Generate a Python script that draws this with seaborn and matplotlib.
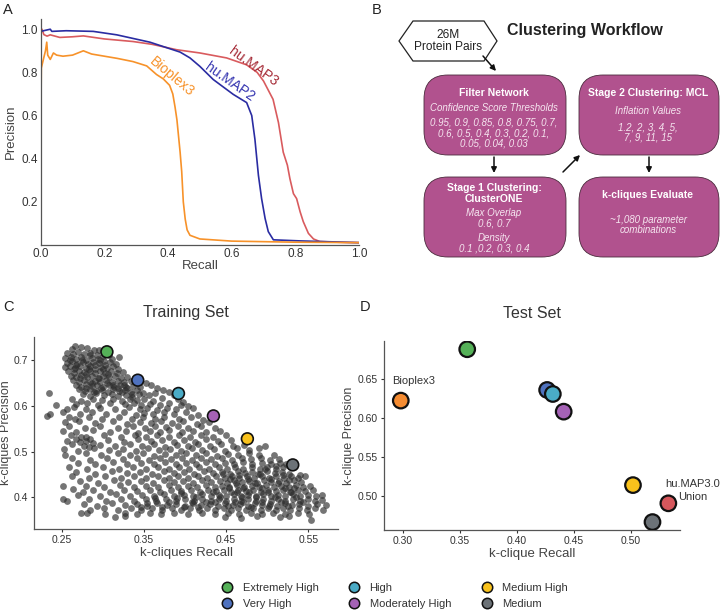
import matplotlib
matplotlib.use("Agg")
import matplotlib.pyplot as plt
from matplotlib.patches import FancyBboxPatch, Polygon
from matplotlib.lines import Line2D
import numpy as np
import pandas as pd
import seaborn as sns

# ---- panel A: precision / recall curves
hm3_recall = [0.0, 0.004, 0.01, 0.02, 0.03, 0.06, 0.10, 0.134, 0.20, 0.29, 0.35, 0.427, 0.50, 0.584,
              0.647, 0.68, 0.70, 0.73, 0.747, 0.762, 0.775, 0.783, 0.794, 0.804, 0.815, 0.825,
              0.841, 0.857, 0.877, 0.95, 1.0]
hm3_precision = [0.99, 1.0, 0.975, 0.968, 0.974, 0.962, 0.965, 0.969, 0.955, 0.943, 0.93, 0.905, 0.89,
                 0.867, 0.835, 0.80, 0.76, 0.675, 0.567, 0.43, 0.37, 0.307, 0.238, 0.215, 0.154,
                 0.108, 0.054, 0.028, 0.016, 0.012, 0.011]

hm2_recall = [0.0, 0.03, 0.035, 0.08, 0.165, 0.239, 0.343, 0.438, 0.469, 0.50, 0.542, 0.605, 0.647,
              0.663, 0.673, 0.684, 0.694, 0.705, 0.715, 0.731, 0.815, 1.0]
hm2_precision = [0.99, 1.0, 0.99, 0.993, 0.99, 0.974, 0.94, 0.894, 0.867, 0.828, 0.767, 0.698, 0.66,
                 0.60, 0.49, 0.323, 0.215, 0.123, 0.062, 0.024, 0.019, 0.011]

bp3_recall = [0.0, 0.002, 0.01, 0.015, 0.019, 0.022, 0.03, 0.04, 0.05, 0.07, 0.10, 0.134, 0.16, 0.20,
              0.24, 0.29, 0.333, 0.364, 0.385, 0.405, 0.415, 0.422, 0.428, 0.432, 0.438, 0.443,
              0.448, 0.454, 0.46, 0.469, 0.50, 0.60, 0.80, 1.0]
bp3_precision = [0.5, 0.82, 0.87, 0.90, 0.94, 0.88, 0.86, 0.89, 0.88, 0.875, 0.88, 0.90, 0.885, 0.875,
                 0.865, 0.85, 0.83, 0.79, 0.77, 0.74, 0.70, 0.64, 0.58, 0.52, 0.43, 0.34, 0.20,
                 0.12, 0.07, 0.045, 0.028, 0.018, 0.013, 0.011]

# ---- panel C: training set parameter sweep (recall, precision)
train_points = [
    (0.266, 0.731), (0.273, 0.729), (0.262, 0.724), (0.281, 0.726), (0.289, 0.721), (0.295, 0.723),
    (0.257, 0.716), (0.264, 0.713), (0.270, 0.718), (0.277, 0.714), (0.284, 0.716), (0.293, 0.712), (0.300, 0.709), (0.308, 0.712),
    (0.254, 0.704), (0.261, 0.707), (0.267, 0.702), (0.274, 0.706), (0.280, 0.701), (0.287, 0.705), (0.294, 0.702), (0.301, 0.699), (0.311, 0.703), (0.320, 0.706),
    (0.256, 0.694), (0.263, 0.697), (0.269, 0.692), (0.276, 0.696), (0.282, 0.691), (0.288, 0.695), (0.295, 0.693), (0.303, 0.690), (0.309, 0.695), (0.316, 0.691),
    (0.254, 0.684), (0.260, 0.688), (0.266, 0.683), (0.272, 0.687), (0.279, 0.682), (0.285, 0.686), (0.291, 0.681), (0.298, 0.685), (0.305, 0.682), (0.312, 0.686), (0.319, 0.681),
    (0.258, 0.676), (0.265, 0.672), (0.271, 0.677), (0.277, 0.673), (0.284, 0.675), (0.290, 0.671), (0.297, 0.676), (0.303, 0.672), (0.310, 0.675), (0.317, 0.671), (0.325, 0.674),
    (0.261, 0.666), (0.268, 0.662), (0.274, 0.667), (0.281, 0.663), (0.287, 0.665), (0.294, 0.661), (0.300, 0.666), (0.307, 0.662), (0.315, 0.665), (0.322, 0.661), (0.330, 0.664),
    (0.264, 0.656), (0.271, 0.652), (0.277, 0.657), (0.284, 0.653), (0.290, 0.655), (0.297, 0.651), (0.304, 0.656), (0.311, 0.652), (0.318, 0.655), (0.326, 0.651), (0.334, 0.654),
    (0.267, 0.646), (0.274, 0.642), (0.280, 0.647), (0.287, 0.643), (0.293, 0.645), (0.300, 0.641), (0.307, 0.646), (0.314, 0.642), (0.321, 0.645), (0.328, 0.641), (0.337, 0.644), (0.345, 0.641), (0.352, 0.650), (0.359, 0.646),
    (0.271, 0.636), (0.278, 0.632), (0.285, 0.637), (0.292, 0.633), (0.299, 0.635), (0.306, 0.631), (0.313, 0.636), (0.320, 0.632), (0.327, 0.635), (0.334, 0.631), (0.341, 0.634), (0.349, 0.629), (0.366, 0.639), (0.373, 0.634), (0.380, 0.631),
    (0.234, 0.627), (0.276, 0.626), (0.284, 0.622), (0.292, 0.627), (0.302, 0.623), (0.311, 0.626), (0.319, 0.621), (0.328, 0.624), (0.336, 0.620), (0.344, 0.626), (0.356, 0.623), (0.364, 0.627), (0.386, 0.624),
    (0.262, 0.614), (0.274, 0.611), (0.288, 0.616), (0.299, 0.612), (0.312, 0.615), (0.323, 0.611), (0.333, 0.616), (0.341, 0.612), (0.350, 0.615), (0.361, 0.611), (0.372, 0.617), (0.391, 0.614), (0.398, 0.609),
    (0.243, 0.602), (0.268, 0.604), (0.281, 0.607), (0.294, 0.602), (0.309, 0.606), (0.327, 0.603), (0.338, 0.607), (0.347, 0.601), (0.357, 0.605), (0.369, 0.602), (0.381, 0.607), (0.395, 0.601), (0.403, 0.600),
    (0.256, 0.594), (0.265, 0.597), (0.280, 0.592), (0.296, 0.596), (0.315, 0.593), (0.332, 0.597), (0.345, 0.592), (0.354, 0.596), (0.366, 0.591), (0.378, 0.595), (0.389, 0.592), (0.410, 0.596),
    (0.236, 0.582), (0.251, 0.586), (0.272, 0.583), (0.287, 0.587), (0.304, 0.582), (0.326, 0.586), (0.340, 0.581), (0.350, 0.585), (0.361, 0.583), (0.374, 0.587), (0.386, 0.582), (0.401, 0.586), (0.416, 0.581),
    (0.232, 0.577), (0.259, 0.576), (0.266, 0.572), (0.283, 0.575), (0.299, 0.571), (0.320, 0.576), (0.335, 0.572), (0.349, 0.575), (0.363, 0.571), (0.375, 0.576), (0.393, 0.572), (0.407, 0.575), (0.422, 0.570),
    (0.254, 0.564), (0.271, 0.567), (0.291, 0.562), (0.313, 0.566), (0.330, 0.561), (0.345, 0.565), (0.358, 0.562), (0.371, 0.567), (0.384, 0.562), (0.398, 0.566), (0.414, 0.561), (0.429, 0.565),
    (0.259, 0.556), (0.278, 0.552), (0.297, 0.556), (0.318, 0.551), (0.337, 0.555), (0.351, 0.552), (0.364, 0.557), (0.377, 0.553), (0.391, 0.556), (0.404, 0.551), (0.419, 0.555), (0.437, 0.552),
    (0.252, 0.546), (0.268, 0.542), (0.288, 0.547), (0.309, 0.543), (0.328, 0.546), (0.343, 0.541), (0.357, 0.545), (0.369, 0.542), (0.381, 0.547), (0.396, 0.543), (0.410, 0.546), (0.426, 0.542), (0.443, 0.545),
    (0.261, 0.536), (0.279, 0.532), (0.301, 0.537), (0.322, 0.533), (0.339, 0.536), (0.352, 0.532), (0.366, 0.537), (0.380, 0.533), (0.393, 0.536), (0.406, 0.532), (0.420, 0.537), (0.434, 0.533), (0.450, 0.536),
    (0.256, 0.524), (0.268, 0.528), (0.274, 0.531), (0.279, 0.524), (0.284, 0.527), (0.272, 0.521), (0.288, 0.519), (0.306, 0.526), (0.326, 0.522), (0.343, 0.527), (0.358, 0.523), (0.372, 0.526), (0.386, 0.521), (0.399, 0.525), (0.412, 0.522), (0.425, 0.527), (0.440, 0.523), (0.456, 0.526),
    (0.263, 0.516), (0.277, 0.513), (0.283, 0.511), (0.297, 0.515), (0.315, 0.512), (0.333, 0.517), (0.348, 0.513), (0.362, 0.516), (0.376, 0.511), (0.390, 0.515), (0.403, 0.512), (0.416, 0.517), (0.430, 0.513), (0.444, 0.516), (0.458, 0.512), (0.472, 0.515), (0.497, 0.512),
    (0.253, 0.506), (0.270, 0.502), (0.289, 0.507), (0.308, 0.503), (0.325, 0.506), (0.340, 0.502), (0.355, 0.507), (0.368, 0.503), (0.382, 0.506), (0.395, 0.502), (0.408, 0.507), (0.421, 0.503), (0.435, 0.506), (0.449, 0.502), (0.463, 0.507), (0.478, 0.503), (0.490, 0.508),
    (0.254, 0.493), (0.279, 0.496), (0.298, 0.492), (0.318, 0.497), (0.333, 0.493), (0.349, 0.496), (0.362, 0.491), (0.376, 0.495), (0.389, 0.492), (0.401, 0.497), (0.413, 0.493), (0.426, 0.496), (0.439, 0.491), (0.452, 0.495), (0.465, 0.492), (0.478, 0.497), (0.490, 0.493), (0.508, 0.492),
    (0.263, 0.486), (0.284, 0.482), (0.305, 0.487), (0.324, 0.483), (0.341, 0.486), (0.356, 0.482), (0.370, 0.487), (0.383, 0.483), (0.396, 0.486), (0.408, 0.482), (0.420, 0.487), (0.432, 0.483), (0.445, 0.486), (0.457, 0.482), (0.469, 0.487), (0.480, 0.483), (0.492, 0.486), (0.503, 0.482), (0.514, 0.484),
    (0.270, 0.476), (0.291, 0.472), (0.312, 0.477), (0.330, 0.473), (0.347, 0.476), (0.362, 0.472), (0.376, 0.477), (0.389, 0.473), (0.401, 0.476), (0.413, 0.472), (0.425, 0.477), (0.437, 0.473), (0.449, 0.476), (0.460, 0.472), (0.471, 0.477), (0.482, 0.473), (0.493, 0.476), (0.504, 0.472), (0.515, 0.476), (0.523, 0.474),
    (0.259, 0.466), (0.281, 0.462), (0.300, 0.467), (0.320, 0.463), (0.337, 0.466), (0.353, 0.462), (0.367, 0.467), (0.380, 0.463), (0.393, 0.466), (0.405, 0.462), (0.417, 0.467), (0.429, 0.463), (0.441, 0.466), (0.451, 0.462), (0.461, 0.467), (0.471, 0.463), (0.481, 0.466), (0.491, 0.462), (0.500, 0.467), (0.510, 0.463), (0.519, 0.466),
    (0.268, 0.456), (0.290, 0.452), (0.311, 0.457), (0.329, 0.453), (0.345, 0.456), (0.360, 0.452), (0.374, 0.457), (0.387, 0.453), (0.399, 0.456), (0.411, 0.452), (0.423, 0.457), (0.434, 0.453), (0.445, 0.456), (0.455, 0.452), (0.464, 0.457), (0.473, 0.453), (0.482, 0.456), (0.491, 0.452), (0.500, 0.457), (0.509, 0.453), (0.518, 0.456), (0.527, 0.452),
    (0.262, 0.446), (0.283, 0.442), (0.303, 0.447), (0.322, 0.443), (0.338, 0.446), (0.353, 0.442), (0.367, 0.447), (0.380, 0.443), (0.392, 0.446), (0.404, 0.442), (0.416, 0.447), (0.427, 0.443), (0.438, 0.446), (0.448, 0.442), (0.457, 0.447), (0.466, 0.443), (0.475, 0.446), (0.484, 0.442), (0.493, 0.447), (0.502, 0.443), (0.511, 0.446), (0.520, 0.442), (0.529, 0.447), (0.537, 0.443), (0.546, 0.446),
    (0.272, 0.436), (0.294, 0.432), (0.314, 0.437), (0.331, 0.433), (0.347, 0.436), (0.361, 0.432), (0.374, 0.437), (0.386, 0.433), (0.398, 0.436), (0.410, 0.432), (0.421, 0.437), (0.432, 0.433), (0.442, 0.436), (0.451, 0.432), (0.460, 0.437), (0.469, 0.433), (0.478, 0.436), (0.487, 0.432), (0.496, 0.437), (0.505, 0.433), (0.514, 0.436), (0.523, 0.432), (0.532, 0.437), (0.541, 0.433),
    (0.252, 0.425), (0.279, 0.426), (0.301, 0.422), (0.321, 0.427), (0.338, 0.423), (0.353, 0.426), (0.367, 0.422), (0.380, 0.427), (0.392, 0.423), (0.404, 0.426), (0.415, 0.422), (0.426, 0.427), (0.436, 0.423), (0.445, 0.426), (0.454, 0.422), (0.463, 0.427), (0.472, 0.423), (0.481, 0.426), (0.490, 0.422), (0.499, 0.427), (0.508, 0.423), (0.517, 0.426), (0.526, 0.422), (0.535, 0.427), (0.544, 0.423), (0.552, 0.426),
    (0.264, 0.418), (0.276, 0.412), (0.288, 0.416), (0.309, 0.412), (0.326, 0.417), (0.342, 0.413), (0.357, 0.416), (0.370, 0.412), (0.383, 0.417), (0.395, 0.413), (0.407, 0.416), (0.418, 0.412), (0.428, 0.417), (0.438, 0.413), (0.447, 0.416), (0.456, 0.412), (0.465, 0.417), (0.474, 0.413), (0.483, 0.416), (0.492, 0.412), (0.501, 0.417), (0.510, 0.413), (0.519, 0.416), (0.528, 0.412), (0.537, 0.417), (0.546, 0.413), (0.556, 0.416),
    (0.270, 0.406), (0.296, 0.402), (0.316, 0.407), (0.333, 0.403), (0.348, 0.406), (0.362, 0.402), (0.375, 0.407), (0.387, 0.403), (0.399, 0.406), (0.410, 0.402), (0.421, 0.407), (0.431, 0.403), (0.441, 0.406), (0.450, 0.402), (0.459, 0.407), (0.468, 0.403), (0.477, 0.406), (0.486, 0.402), (0.495, 0.407), (0.504, 0.403), (0.513, 0.406), (0.522, 0.402), (0.531, 0.407), (0.540, 0.403), (0.549, 0.406), (0.559, 0.402), (0.566, 0.405),
    (0.252, 0.396), (0.256, 0.392), (0.283, 0.396), (0.304, 0.392), (0.322, 0.397), (0.338, 0.393), (0.352, 0.396), (0.365, 0.392), (0.377, 0.397), (0.389, 0.393), (0.400, 0.396), (0.411, 0.392), (0.421, 0.397), (0.431, 0.393), (0.441, 0.396), (0.450, 0.392), (0.459, 0.397), (0.468, 0.393), (0.477, 0.396), (0.486, 0.392), (0.495, 0.397), (0.504, 0.393), (0.513, 0.396), (0.522, 0.392), (0.531, 0.397), (0.540, 0.393), (0.549, 0.396), (0.558, 0.392), (0.567, 0.395),
    (0.277, 0.386), (0.293, 0.382), (0.311, 0.387), (0.327, 0.383), (0.341, 0.386), (0.354, 0.382), (0.366, 0.387), (0.378, 0.383), (0.389, 0.386), (0.400, 0.382), (0.410, 0.387), (0.420, 0.383), (0.430, 0.386), (0.440, 0.382), (0.449, 0.387), (0.458, 0.383), (0.467, 0.386), (0.476, 0.382), (0.485, 0.387), (0.494, 0.383), (0.503, 0.386), (0.512, 0.382), (0.521, 0.387), (0.530, 0.383), (0.539, 0.386), (0.549, 0.382), (0.560, 0.386), (0.571, 0.383),
    (0.284, 0.372), (0.302, 0.376), (0.319, 0.372), (0.334, 0.377), (0.347, 0.373), (0.360, 0.376), (0.372, 0.372), (0.384, 0.377), (0.395, 0.373), (0.406, 0.376), (0.417, 0.372), (0.427, 0.377), (0.437, 0.373), (0.447, 0.376), (0.456, 0.372), (0.465, 0.377), (0.474, 0.373), (0.483, 0.376), (0.492, 0.372), (0.501, 0.377), (0.510, 0.373), (0.519, 0.376), (0.528, 0.372), (0.538, 0.377), (0.548, 0.373), (0.558, 0.376), (0.568, 0.372),
    (0.273, 0.367), (0.281, 0.365), (0.303, 0.364), (0.327, 0.366), (0.342, 0.363), (0.357, 0.367), (0.371, 0.364), (0.386, 0.366), (0.404, 0.363), (0.421, 0.367), (0.437, 0.364), (0.452, 0.366), (0.466, 0.363), (0.480, 0.367), (0.494, 0.364), (0.507, 0.366), (0.521, 0.363), (0.537, 0.367), (0.551, 0.364),
    (0.315, 0.357), (0.327, 0.359), (0.449, 0.358), (0.468, 0.356), (0.487, 0.359), (0.516, 0.357), (0.527, 0.359), (0.553, 0.350),
    # denser lower-right lobe and bottom band
    (0.446, 0.451), (0.455, 0.441), (0.462, 0.431), (0.470, 0.421), (0.478, 0.411), (0.486, 0.401), (0.494, 0.391), (0.502, 0.381),
    (0.452, 0.381), (0.461, 0.391), (0.469, 0.401), (0.477, 0.441), (0.485, 0.431), (0.493, 0.421), (0.501, 0.411), (0.509, 0.401),
    (0.517, 0.391), (0.525, 0.381), (0.489, 0.451), (0.497, 0.461), (0.505, 0.441), (0.513, 0.431), (0.521, 0.421), (0.529, 0.411),
    (0.454, 0.421), (0.463, 0.411), (0.471, 0.389), (0.480, 0.379), (0.511, 0.469), (0.519, 0.449), (0.527, 0.439), (0.466, 0.449),
    (0.443, 0.401), (0.434, 0.411), (0.425, 0.391), (0.416, 0.379), (0.408, 0.389), (0.399, 0.378), (0.390, 0.399), (0.381, 0.389),
    (0.372, 0.379), (0.363, 0.398), (0.354, 0.387), (0.346, 0.378), (0.413, 0.401), (0.395, 0.409), (0.437, 0.389), (0.540, 0.449),
    (0.535, 0.401), (0.543, 0.391), (0.532, 0.421),
    # denser upper-left lobe
    (0.260, 0.700), (0.268, 0.690), (0.275, 0.700), (0.283, 0.680), (0.290, 0.690), (0.280, 0.670), (0.295, 0.660), (0.287, 0.650),
    (0.300, 0.680), (0.306, 0.670), (0.272, 0.660), (0.279, 0.640), (0.312, 0.645), (0.318, 0.640), (0.323, 0.630), (0.330, 0.638),
    (0.336, 0.626), (0.326, 0.645), (0.265, 0.680), (0.285, 0.712), (0.296, 0.700), (0.305, 0.650), (0.289, 0.630), (0.298, 0.640),
]

levels = ["Extremely High", "Very High", "High", "Moderately High", "Medium High", "Medium"]
level_colors = ["#55b158", "#4f72bf", "#4aabc6", "#a562b6", "#f9c21c", "#6c7277"]

train_sel_recall = [0.305, 0.3425, 0.392, 0.4345, 0.4758, 0.531]
train_sel_precision = [0.718, 0.656, 0.627, 0.578, 0.528, 0.471]

# ---- panel D: test set
test_names = ["Extremely High", "Very High", "High", "Moderately High", "Medium High", "Medium",
              "Bioplex3", "hu.MAP3.0 Union"]
test_colors = level_colors + ["#f58c32", "#d6575c"]
test_recall = [0.3565, 0.4265, 0.4315, 0.441, 0.5017, 0.5188, 0.2983, 0.5327]
test_precision = [0.6886, 0.6363, 0.6311, 0.6084, 0.514, 0.4665, 0.6226, 0.4906]

W, H = 720, 613


def frame(px_left, px_top, px_right, px_bottom):
    return [px_left / W, 1 - px_bottom / H, (px_right - px_left) / W, (px_bottom - px_top) / H]


sns.set_theme(style="white")
plt.rcParams["font.family"] = ["Liberation Sans", "DejaVu Sans"]
plt.rcParams["axes.edgecolor"] = "#555555"
plt.rcParams["axes.linewidth"] = 0.9

fig = plt.figure(figsize=(7.2, 6.13), dpi=100)

LAB = 9.5


def style_axes(ax, ticklen=0, ticksize=7.5):
    sns.despine(ax=ax)
    ax.tick_params(axis="both", labelsize=ticksize, colors="#333333", length=ticklen, width=0.8,
                   pad=2, bottom=True, left=True)
    for lab in ax.get_xticklabels() + ax.get_yticklabels():
        lab.set_color("#333333")


# ---------------- panel A
axa = fig.add_axes(frame(40.7, 19.3, 359, 245))
sns.lineplot(x=hm3_recall, y=hm3_precision, sort=False, estimator=None, color="#d95b5e", lw=1.2, ax=axa)
sns.lineplot(x=hm2_recall, y=hm2_precision, sort=False, estimator=None, color="#2a2ca2", lw=1.2, ax=axa)
sns.lineplot(x=bp3_recall, y=bp3_precision, sort=False, estimator=None, color="#f7922a", lw=1.2, ax=axa)
axa.set_xlim(0, 1.0)
axa.set_ylim(0, 1.046)
axa.set_xticks([0.0, 0.2, 0.4, 0.6, 0.8, 1.0])
axa.set_xticklabels(["0.0", "0.2", "0.4", "0.6", "0.8", "1.0"])
axa.set_yticks([0.2, 0.4, 0.6, 0.8, 1.0])
axa.set_yticklabels(["0.2", "0.4", "0.6", "0.8", "1.0"])
axa.set_xlabel("Recall", fontsize=LAB, color="#444444", labelpad=0)
axa.set_ylabel("Precision", fontsize=LAB, color="#444444", labelpad=3)
style_axes(axa, ticksize=8.5)
axa.text(0.667, 0.825, "hu.MAP3", rotation=-36, color="#a52a36", fontsize=10, ha="center", va="center")
axa.text(0.595, 0.755, "hu.MAP2", rotation=-35, color="#3434b0", fontsize=10, ha="center", va="center")
axa.text(0.4126, 0.779, "Bioplex3", rotation=-40, color="#f7922a", fontsize=10, ha="center", va="center")

# ---------------- panel B (workflow drawn in pixel space)
axb = fig.add_axes([0, 0, 1, 1], zorder=-1)
axb.set_xlim(0, W)
axb.set_ylim(H, 0)
axb.axis("off")

hexagon = Polygon([(399, 41), (413, 21), (484, 21), (497, 41), (484, 61), (413, 61)], closed=True,
                  facecolor="white", edgecolor="#222222", lw=0.9)
axb.add_patch(hexagon)
axb.text(448, 41, "26M\nProtein Pairs", ha="center", va="center", fontsize=8.6, color="#222222",
         linespacing=1.05)
axb.text(585, 30, "Clustering Workflow", ha="center", va="center", fontsize=11.5, fontweight="bold",
         color="#222222")

box_color = "#b1528e"
boxes = [(423, 75, 567, 155), (578, 75, 720, 155), (423, 177, 567, 257), (578, 177, 720, 257)]
for x0, y0, x1, y1 in boxes:
    axb.add_patch(FancyBboxPatch((x0 + 1, y0), x1 - x0 - 2, y1 - y0,
                                 boxstyle="round,pad=0,rounding_size=24",
                                 facecolor=box_color, edgecolor="#4a2a3c", lw=0.6))

arrow = dict(arrowstyle="-|>", color="#111111", lw=1.1, mutation_scale=8, shrinkA=0, shrinkB=0)
axb.annotate("", xy=(496, 71), xytext=(483, 56), arrowprops=arrow)
axb.annotate("", xy=(494, 173), xytext=(494, 157), arrowprops=arrow)
axb.annotate("", xy=(649, 173), xytext=(649, 157), arrowprops=arrow)
axb.annotate("", xy=(580, 155), xytext=(563, 172), arrowprops=arrow)

hd = dict(ha="center", va="center", fontsize=7.5, fontweight="bold", color="white")
it = dict(ha="center", va="center", fontsize=7, style="italic", color="#f6e6f0")
axb.text(494, 93, "Filter Network", **hd)
axb.text(494, 108, "Confidence Score Thresholds", **it)
axb.text(494, 133, "0.95, 0.9, 0.85, 0.8, 0.75, 0.7,\n0.6, 0.5, 0.4, 0.3, 0.2, 0.1,\n0.05, 0.04, 0.03",
         linespacing=1.1, **it)
axb.text(648, 93, "Stage 2 Clustering: MCL", **hd)
axb.text(648, 111, "Inflation Values", **it)
axb.text(648, 132.5, "1.2, 2, 3, 4, 5,\n7, 9, 11, 15", linespacing=1.1, **it)
axb.text(494, 193.5, "Stage 1 Clustering:\nClusterONE", linespacing=1.05, **hd)
axb.text(494, 218, "Max Overlap\n0.6, 0.7", linespacing=1.1, **it)
axb.text(494, 243, "Density\n0.1 ,0.2, 0.3, 0.4", linespacing=1.1, **it)
axb.text(648, 195, "k-cliques Evaluate", **hd)
axb.text(648, 225, "~1,080 parameter\ncombinations", linespacing=1.1, **it)

# ---------------- panel C
train_recall = [p[0] for p in train_points]
train_precision = [p[1] for p in train_points]
axc = fig.add_axes(frame(34.3, 336.7, 338, 529))
sns.scatterplot(x=train_recall, y=train_precision, color="#2e2e2e", alpha=0.66, s=24, linewidth=0,
                ax=axc)
sel = pd.DataFrame({"recall": train_sel_recall, "precision": train_sel_precision, "level": levels})
sns.scatterplot(data=sel, x="recall", y="precision", hue="level", palette=dict(zip(levels, level_colors)),
                s=72, edgecolor="#111111", linewidth=1.2, legend=False, ax=axc, zorder=5)
axc.set_xlim(0.2167, 0.586)
axc.set_ylim(0.331, 0.751)
axc.set_xticks([0.25, 0.35, 0.45, 0.55])
axc.set_xticklabels(["0.25", "0.35", "0.45", "0.55"])
axc.set_yticks([0.4, 0.5, 0.6, 0.7])
axc.set_yticklabels(["0.4", "0.5", "0.6", "0.7"])
axc.set_xlabel("k-cliques Recall", fontsize=LAB, color="#444444", labelpad=1)
axc.set_ylabel("k-cliques Precision", fontsize=9, color="#444444", labelpad=1)
axc.set_title("Training Set", fontsize=11.5, color="#333333", pad=14)
style_axes(axc, ticklen=2.5)

# ---------------- panel D
test = pd.DataFrame({"recall": test_recall, "precision": test_precision, "name": test_names})
axd = fig.add_axes(frame(384, 340.7, 680, 530))
sns.scatterplot(data=test, x="recall", y="precision", hue="name", palette=dict(zip(test_names, test_colors)),
                s=125, edgecolor="#111111", linewidth=1.6, legend=False, ax=axd, zorder=5)
axd.set_xlim(0.2836, 0.5429)
axd.set_ylim(0.4563, 0.6996)
axd.set_xticks([0.30, 0.35, 0.40, 0.45, 0.50])
axd.set_xticklabels(["0.30", "0.35", "0.40", "0.45", "0.50"])
axd.set_yticks([0.50, 0.55, 0.60, 0.65])
axd.set_yticklabels(["0.50", "0.55", "0.60", "0.65"])
axd.set_xlabel("k-clique Recall", fontsize=LAB, color="#444444", labelpad=1)
axd.set_ylabel("k-clique Precision", fontsize=9, color="#444444", labelpad=2)
axd.set_title("Test Set", fontsize=11.5, color="#333333", pad=16)
style_axes(axd, ticklen=2.5)
axd.text(0.2906, 0.6478, "Bioplex3", fontsize=8, color="#333333", ha="left", va="center")
axd.text(0.5298, 0.5154, "hu.MAP3.0", fontsize=8, color="#333333", ha="left", va="center")
axd.text(0.5411, 0.4987, "Union", fontsize=8, color="#333333", ha="left", va="center")

# ---------------- legend
handles = [Line2D([], [], marker="o", linestyle="", markersize=7.5, markerfacecolor=c,
                  markeredgecolor="#111111", markeredgewidth=1.1, label=l)
           for l, c in zip(levels, level_colors)]
fig.legend(handles=handles, loc="center", bbox_to_anchor=(0.5444, 0.0277), ncol=3, frameon=False,
           fontsize=8, handletextpad=0.4, columnspacing=2.2, labelspacing=0.6, labelcolor="#333333")

# ---------------- panel letters
for letter, x, y in [("A", 8, 10), ("B", 377, 10), ("C", 8, 307), ("D", 365, 307)]:
    fig.text(x / W, 1 - y / H, letter, fontsize=10.5, color="#222222", ha="center", va="center")

fig.savefig("out.png", dpi=100)
